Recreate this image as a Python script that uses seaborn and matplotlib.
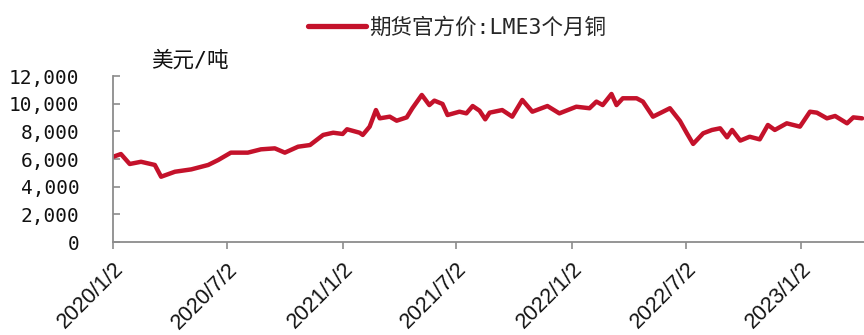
import matplotlib
matplotlib.use("Agg")
import matplotlib.pyplot as plt
import matplotlib.transforms as mtransforms
from matplotlib.font_manager import FontProperties
from matplotlib.ticker import FuncFormatter
import seaborn as sns
import pandas as pd

dates = [
    "2020-01-02", "2020-01-15", "2020-01-29", "2020-02-16", "2020-03-09", "2020-03-19",
    "2020-04-10", "2020-05-06", "2020-06-02", "2020-06-18", "2020-07-08", "2020-08-04",
    "2020-08-25", "2020-09-16", "2020-10-02", "2020-10-23", "2020-11-11", "2020-12-02",
    "2020-12-18", "2021-01-02", "2021-01-09", "2021-01-29", "2021-02-03", "2021-02-14",
    "2021-02-24", "2021-03-02", "2021-03-18", "2021-03-29", "2021-04-14", "2021-04-23",
    "2021-05-08", "2021-05-12", "2021-05-20", "2021-05-28", "2021-06-10", "2021-06-18",
    "2021-07-07", "2021-07-18", "2021-07-28", "2021-08-08", "2021-08-17", "2021-08-24",
    "2021-09-13", "2021-09-29", "2021-10-15", "2021-10-31", "2021-11-24", "2021-12-13",
    "2022-01-09", "2022-01-30", "2022-02-10", "2022-02-20", "2022-03-06", "2022-03-14",
    "2022-03-24", "2022-04-15", "2022-04-25", "2022-05-11", "2022-05-27", "2022-06-07",
    "2022-06-23", "2022-07-04", "2022-07-14", "2022-07-30", "2022-08-13", "2022-08-26",
    "2022-09-06", "2022-09-14", "2022-09-27", "2022-10-12", "2022-10-28", "2022-11-10",
    "2022-11-21", "2022-12-10", "2022-12-31", "2023-01-16", "2023-01-27", "2023-02-12",
    "2023-02-25", "2023-03-16", "2023-03-26", "2023-04-09",
]
copper_price = [
    6150, 6360, 5640, 5800, 5570, 4720,
    5080, 5250, 5570, 5930, 6460, 6460,
    6700, 6770, 6460, 6890, 7010, 7740,
    7900, 7810, 8150, 7900, 7740, 8340,
    9540, 8940, 9060, 8770, 9010, 9670,
    10630, 10390, 9900, 10220, 9980, 9180,
    9420, 9300, 9830, 9490, 8870, 9350,
    9540, 9060, 10270, 9420, 9830, 9300,
    9780, 9670, 10150, 9900, 10700, 9900,
    10390, 10390, 10150, 9060, 9420, 9670,
    8750, 7860, 7090, 7860, 8100, 8220,
    7570, 8100, 7330, 7610, 7420, 8460,
    8100, 8580, 8340, 9420, 9350, 8940,
    9110, 8580, 9010, 8940,
]
tick_dates = ["2020-01-02", "2020-07-02", "2021-01-02", "2021-07-02",
              "2022-01-02", "2022-07-02", "2023-01-02"]
tick_labels = ["2020/1/2", "2020/7/2", "2021/1/2", "2021/7/2",
               "2022/1/2", "2022/7/2", "2023/1/2"]
y_ticks = [0, 2000, 4000, 6000, 8000, 10000, 12000]
series_name = "期货官方价:LME3个月铜"
unit_label = "美元/吨"

df = pd.DataFrame({"date": pd.to_datetime(dates), "price": copper_price})

sns.set_theme(style="white")
plt.rcParams["font.family"] = ["Noto Sans CJK SC", "DejaVu Sans"]
mixed_family = ["DejaVu Sans Mono", "Noto Sans CJK SC"]

fig = plt.figure(figsize=(8.64, 3.35), dpi=100)
ax = fig.add_axes([0.1305, 0.2776, 0.8695, 0.4955])

sns.lineplot(data=df, x="date", y="price", ax=ax, color="#C4122B",
             linewidth=3.2, label=series_name)

ax.set_ylim(0, 12000)
ax.set_yticks(y_ticks)
ax.yaxis.set_major_formatter(FuncFormatter(lambda v, p: f"{int(v):,}"))
ax.set_xlim(pd.Timestamp("2020-01-02"), pd.Timestamp("2023-04-12"))
ax.set_xticks(pd.to_datetime(tick_dates))
ax.set_xticklabels(tick_labels, rotation=45, ha="right", va="top",
                   rotation_mode="anchor", fontsize=15.5, family="Liberation Sans")
ax.set_xlabel("")
ax.set_ylabel("")

shift = mtransforms.ScaledTranslation(5 / 100, 0, fig.dpi_scale_trans)
for lab in ax.get_xticklabels():
    lab.set_transform(lab.get_transform() + shift)

for lab in ax.get_yticklabels():
    lab.set_fontsize(14)
    lab.set_family("DejaVu Sans Mono")

for s in ["top", "right"]:
    ax.spines[s].set_visible(False)
for s in ["left", "bottom"]:
    ax.spines[s].set_color("#8c8c8c")
    ax.spines[s].set_linewidth(1.3)

ax.tick_params(axis="y", direction="in", length=5, width=1.2, color="#8c8c8c",
               left=True, pad=24, labelcolor="#111111")
ax.tick_params(axis="x", direction="out", length=5, width=1.2, color="#8c8c8c",
               bottom=True, pad=7, labelcolor="#111111")

leg = ax.legend(loc="center", bbox_to_anchor=(457 / 864, 1 - 27 / 335),
                bbox_transform=fig.transFigure, frameon=False,
                prop=FontProperties(family=mixed_family, size=15.5),
                handlelength=2.7, handletextpad=0.15)
for line in leg.get_lines():
    line.set_linewidth(3.8)

fig.text(190 / 864, 1 - 60 / 335, unit_label, ha="center", va="center",
         fontsize=15.5, color="#111111", family=mixed_family)

fig.savefig("out.png", dpi=100)
